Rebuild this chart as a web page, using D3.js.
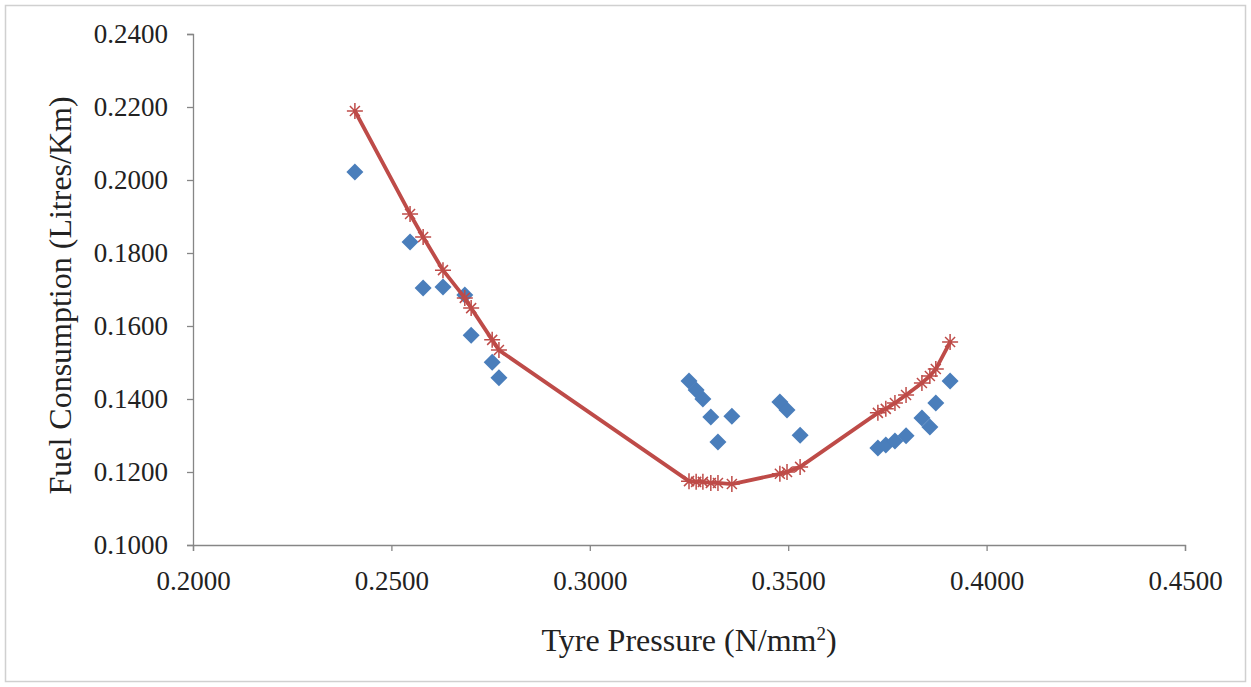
<!DOCTYPE html>
<html>
<head>
<meta charset="utf-8">
<script src="https://cdn.jsdelivr.net/npm/d3@7"></script>
<style>
  body { margin: 0; background: #fff; }
  svg text { font-family: "Liberation Serif", "Times New Roman", serif; fill: #222; }
</style>
</head>
<body>
<div id="chart"></div>
<script>
// measured pressure (N/mm2) and fuel use (Litres/Km)
const pressure = [0.2408, 0.2547, 0.2580, 0.2630, 0.2685, 0.2701, 0.2754, 0.2771,
  0.3250, 0.3268, 0.3285, 0.3305, 0.3323, 0.3358, 0.3479, 0.3497, 0.3530,
  0.3726, 0.3746, 0.3769, 0.3797, 0.3837, 0.3857, 0.3872, 0.3908];
const observed = [0.2022, 0.1830, 0.1704, 0.1707, 0.1685, 0.1575, 0.1501, 0.1458,
  0.1449, 0.1425, 0.1400, 0.1351, 0.1282, 0.1353, 0.1392, 0.1370, 0.1301,
  0.1266, 0.1274, 0.1285, 0.1299, 0.1348, 0.1323, 0.1389, 0.1449];
const predicted = [0.2189, 0.1907, 0.1844, 0.1753, 0.1677, 0.1649, 0.1562, 0.1534,
  0.1175, 0.1173, 0.1173, 0.1170, 0.1170, 0.1167, 0.1195, 0.1200, 0.1214,
  0.1362, 0.1373, 0.1389, 0.1411, 0.1444, 0.1463, 0.1482, 0.1556];

const xTicks = [0.20, 0.25, 0.30, 0.35, 0.40, 0.45];
const yTicks = [0.10, 0.12, 0.14, 0.16, 0.18, 0.20, 0.22, 0.24];

const width = 1251, height = 687;
const margin = { top: 34, right: 66, bottom: 142, left: 193 };
const graphWidth = width - margin.left - margin.right;
const graphHeight = height - margin.top - margin.bottom;

const svg = d3.select('#chart')
  .append('svg')
  .attr('width', width)
  .attr('height', height);

// outer frame
svg.append('rect')
  .attr('x', 5.5).attr('y', 5.5)
  .attr('width', width - 11).attr('height', height - 11)
  .attr('fill', '#fff')
  .attr('stroke', '#d0d0d0')
  .attr('stroke-width', 1.5);

const graph = svg.append('g')
  .attr('transform', `translate(${margin.left}, ${margin.top})`);

//Scales
const x = d3.scaleLinear().domain([0.2, 0.45]).range([0, graphWidth]);
const y = d3.scaleLinear().domain([0.1, 0.24]).range([graphHeight, 0]);

//axes
const xAxis = d3.axisBottom(x).tickValues(xTicks).tickSize(6).tickPadding(20)
  .tickFormat(d3.format('.4f'));
const yAxis = d3.axisLeft(y).tickValues(yTicks).tickSize(6).tickPadding(19)
  .tickFormat(d3.format('.4f'));

const xAxisGroup = graph.append('g')
  .attr('transform', `translate(0, ${graphHeight})`)
  .call(xAxis);
const yAxisGroup = graph.append('g').call(yAxis);

[xAxisGroup, yAxisGroup].forEach(g => {
  g.select('.domain').attr('stroke', '#868686').attr('stroke-width', 1.3);
  g.selectAll('.tick line').attr('stroke', '#868686').attr('stroke-width', 1.3);
  g.selectAll('text')
    .attr('font-size', 27)
    .attr('font-family', '"Liberation Serif", serif')
    .attr('fill', '#222');
});

// observed points
const data = pressure.map((p, i) => ({ p, obs: observed[i], pred: predicted[i] }));

graph.selectAll('path.obs')
  .data(data)
  .enter()
  .append('path')
  .attr('class', 'obs')
  .attr('d', 'M0,-8.5L8.5,0L0,8.5L-8.5,0Z')
  .attr('fill', '#4a7ebb')
  .attr('transform', d => `translate(${x(d.p)}, ${y(d.obs)})`);

// predicted line
const line = d3.line()
  .x(d => x(d.p))
  .y(d => y(d.pred));

graph.append('path')
  .datum(data)
  .attr('d', line)
  .attr('fill', 'none')
  .attr('stroke', '#be4b48')
  .attr('stroke-width', 3.8)
  .attr('stroke-linejoin', 'round');

// star markers on the line
const star = 'M-5,-5L5,5M-5,5L5,-5M0,-8L0,8M-8,0L8,0';
graph.selectAll('path.pred')
  .data(data)
  .enter()
  .append('path')
  .attr('class', 'pred')
  .attr('d', star)
  .attr('stroke', '#be4b48')
  .attr('stroke-width', 1.5)
  .attr('fill', 'none')
  .attr('transform', d => `translate(${x(d.p)}, ${y(d.pred)})`);

// axis titles
svg.append('text')
  .attr('x', margin.left + graphWidth / 2)
  .attr('y', 651)
  .attr('text-anchor', 'middle')
  .attr('font-size', 32)
  .html('Tyre Pressure (N/mm<tspan dy="-11" font-size="19">2</tspan><tspan dy="11">)</tspan>');

svg.append('text')
  .attr('transform', `translate(71, ${margin.top + graphHeight / 2 + 6}) rotate(-90)`)
  .attr('text-anchor', 'middle')
  .attr('font-size', 32)
  .text('Fuel Consumption (Litres/Km)');
</script>
</body>
</html>
